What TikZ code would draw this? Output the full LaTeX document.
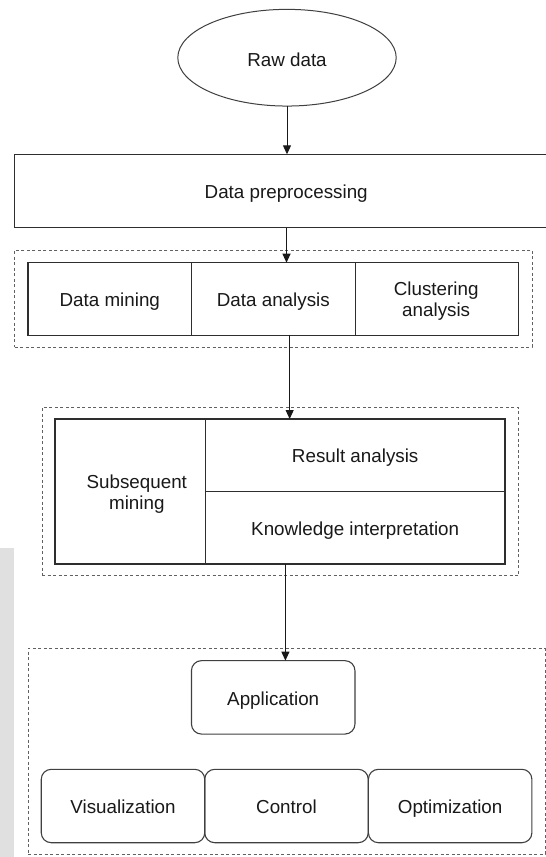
\documentclass[tikz,border=0pt]{standalone}
\usepackage{fontspec}
\setmainfont{Liberation Sans}
\usetikzlibrary{shapes.geometric,arrows.meta}
\begin{document}
\begin{tikzpicture}[x=1pt,y=1pt,
  every node/.style={font=\fontsize{18.8}{20.5}\selectfont, text=black!90, inner sep=0pt, outer sep=0pt},
  one/.style={text height=15.4pt, text depth=0pt},
  cell/.style={draw=black!82, line width=1.1pt, align=center},
  grp/.style={draw=black!62, line width=1pt, dash pattern=on 3pt off 2.5pt},
  rbox/.style={draw=black!75, line width=1.1pt, rounded corners=10pt, minimum width=163.5pt, minimum height=73.4pt, one},
  arr/.style={draw=black!90, line width=1pt, -{Triangle[length=9pt,width=8pt]}}]
\useasboundingbox (0,0) rectangle (546,-857);
\fill[white] (0,0) rectangle (546,-857);
\fill[black!12] (0,-548) rectangle (13.5,-857);

% top
\node[ellipse, draw=black!75, line width=1pt, minimum width=218.4pt, minimum height=96.7pt] (raw) at (287,-57.7) {};
\node[one] (rawtxt) at (287,-59) {Raw data};
\node[cell, one, minimum width=543.7pt, minimum height=73.4pt] (prep) at (286.2,-191) {Data preprocessing};

% group 1
\node[grp, minimum width=517.3pt, minimum height=97pt] (g1) at (273.35,-298.5) {};
\node[cell, one, minimum width=163.6pt, minimum height=72.6pt] (dm) at (109.8,-299) {Data mining};
\node[cell, one, minimum width=163.5pt, minimum height=72.6pt] (da) at (273.35,-299) {Data analysis};
\node[cell, minimum width=163.6pt, minimum height=72.6pt] (ca) at (436.9,-299) {};
\node[align=center] (catxt) at (436.2,-301) {Clustering\\analysis};

% group 2
\node[grp, minimum width=476.3pt, minimum height=168.4pt] (g2) at (280.15,-491.5) {};
\node[cell, minimum width=150.4pt, minimum height=145pt] (sm) at (130.2,-491.5) {};
\node[align=center] (smtxt) at (136.8,-493.9) {Subsequent\\mining};
\node[cell, one, minimum width=299.6pt, minimum height=72.5pt] (res) at (355.2,-455.25) {Result analysis};
\node[cell, one, minimum width=299.6pt, minimum height=72.5pt] (kn) at (355.2,-527.75) {Knowledge interpretation};

% group 3
\node[grp, minimum width=517pt, minimum height=205.7pt] (g3) at (286.5,-751.15) {};
\node[rbox] (app) at (273.2,-697.35) {Application};
\node[rbox] (vis) at (123,-806) {Visualization};
\node[rbox] (ctl) at (286.5,-806) {Control};
\node[rbox] (opt) at (450.15,-806) {Optimization};

% arrows
\draw[arr] (raw.south) -- (raw.south |- prep.north);
\draw[arr] ([xshift=0.3pt]prep.south) -- ([xshift=0.3pt]prep.south |- da.north);
\draw[arr] ([xshift=16.3pt]da.south) -- ([xshift=16.3pt]da.south |- res.north);
\draw[arr] ([xshift=-69.8pt]kn.south) -- ([xshift=-69.8pt]kn.south |- app.north);
\end{tikzpicture}
\end{document}
